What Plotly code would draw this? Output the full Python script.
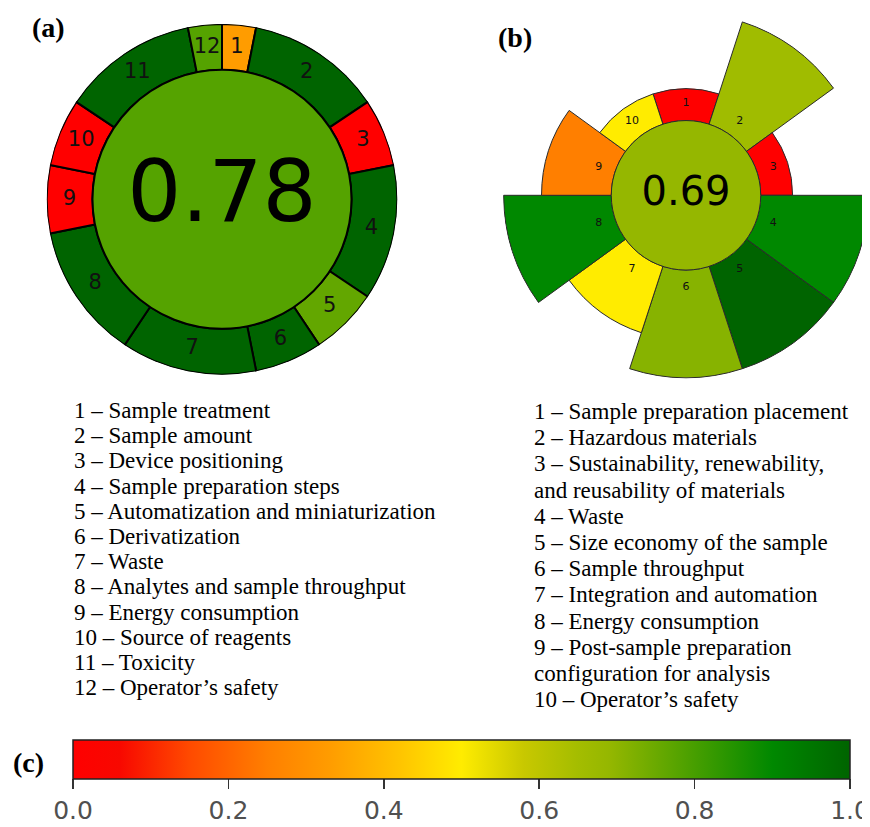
import plotly.graph_objects as go

# ---------------- data ----------------
a_criteria = [str(i) for i in range(1, 13)]
a_weights = [1, 4, 2, 4, 2, 2, 4, 4, 2, 2, 4, 1]
a_scores = [0.33, 1.0, 0.0, 1.0, 0.76, 1.0, 1.0, 1.0, 0.0, 0.0, 1.0, 0.78]
a_total = 0.78
a_legend = [
    "1 – Sample treatment",
    "2 – Sample amount",
    "3 – Device positioning",
    "4 – Sample preparation steps",
    "5 – Automatization and miniaturization",
    "6 – Derivatization",
    "7 – Waste",
    "8 – Analytes and sample throughput",
    "9 – Energy consumption",
    "10 – Source of reagents",
    "11 – Toxicity",
    "12 – Operator’s safety",
]

b_criteria = [str(i) for i in range(1, 11)]
b_weights = [1, 3, 1, 3, 3, 3, 2, 3, 2, 1]
b_scores = [0.0, 0.66, 0.0, 0.9, 1.0, 0.71, 0.5, 0.9, 0.25, 0.5]
b_total = 0.69
b_legend = [
    "1 – Sample preparation placement",
    "2 – Hazardous materials",
    "3 – Sustainability, renewability,",
    "and reusability of materials",
    "4 – Waste",
    "5 – Size economy of the sample",
    "6 – Sample throughput",
    "7 – Integration and automation",
    "8 – Energy consumption",
    "9 – Post-sample preparation",
    "configuration for analysis",
    "10 – Operator’s safety",
]

cbar_tickvals = [0.0, 0.2, 0.4, 0.6, 0.8, 1.0]
cbar_ticktext = ["0.0", "0.2", "0.4", "0.6", "0.8", "1.0"]

# ---------------- style ----------------
colorscale = [
    [0.0, "#ff0000"], [0.06, "#f80800"], [0.15, "#ff4a00"], [0.25, "#ff7f00"],
    [0.33, "#ff9c00"], [0.42, "#ffc400"], [0.5, "#ffec00"], [0.58, "#c8c800"],
    [0.65, "#a4bd00"], [0.69, "#95b700"], [0.78, "#55a300"], [0.9, "#008800"],
    [1.0, "#006400"],
]
PAGE_OFF = 8  # default body margin of the html page
W, H = 870 - PAGE_OFF, 827 - PAGE_OFF


def px_x(x):
    return (x - PAGE_OFF) / W


def px_y(y):
    return 1 - (y - PAGE_OFF) / H


fig = go.Figure()

# ---------- panel (a): AGREE ring ----------
tot_a = sum(a_weights)
a_width = [w * 360.0 / tot_a for w in a_weights]
a_theta = []
acc = 0.0
for wd in a_width:
    a_theta.append(acc + wd / 2)
    acc += wd
a_inner, a_outer = 130 / 176, 1.0

fig.add_trace(go.Barpolar(
    r=[a_outer - a_inner] * len(a_weights), base=[a_inner] * len(a_weights),
    theta=a_theta, width=a_width,
    marker=dict(color=a_scores, colorscale=colorscale, cmin=0, cmax=1,
                line=dict(color="#000000", width=2),
                showscale=True,
                colorbar=dict(
                    orientation="h", x=px_x((73 + 850) / 2), xanchor="center",
                    y=px_y(743), yanchor="top",
                    len=777, lenmode="pixels", thickness=39, thicknessmode="pixels",
                    xpad=0, ypad=0, outlinewidth=1.5, outlinecolor="#222222",
                    ticks="outside", ticklen=10, tickwidth=1.5, tickcolor="#333333",
                    tickvals=cbar_tickvals, ticktext=cbar_ticktext,
                    tickfont=dict(family="DejaVu Sans", size=25, color="#505050"),
                )),
    subplot="polar", hoverinfo="skip",
))
fig.add_trace(go.Barpolar(
    r=[a_inner], base=[0], theta=[0], width=[360],
    marker=dict(color=[a_total], colorscale=colorscale, cmin=0, cmax=1,
                line=dict(color="#000000", width=2)),
    subplot="polar", hoverinfo="skip",
))
fig.add_trace(go.Scatterpolar(
    r=[(a_inner + a_outer) / 2] * len(a_criteria), theta=a_theta,
    text=a_criteria, mode="text",
    textfont=dict(family="DejaVu Sans", size=21, color="#111111"),
    subplot="polar", hoverinfo="skip",
))
fig.add_trace(go.Scatterpolar(
    r=[0], theta=[0], text=[f"{a_total:.2f}"], mode="text",
    textfont=dict(family="DejaVu Sans", size=85, color="#000000"),
    subplot="polar", hoverinfo="skip",
))

# ---------- panel (b): AGREEprep ----------
nb = len(b_weights)
b_width = [360.0 / nb] * nb
b_theta = [i * 360.0 / nb for i in range(nb)]
b_inner = 75
b_top = [69 + 38 * w for w in b_weights]

fig.add_trace(go.Barpolar(
    r=[t - b_inner for t in b_top], base=[b_inner] * nb,
    theta=b_theta, width=b_width,
    marker=dict(color=b_scores, colorscale=colorscale, cmin=0, cmax=1,
                line=dict(color="#2a2a2a", width=1)),
    subplot="polar2", hoverinfo="skip",
))
fig.add_trace(go.Barpolar(
    r=[b_inner], base=[0], theta=[0], width=[360],
    marker=dict(color=[b_total], colorscale=colorscale, cmin=0, cmax=1,
                line=dict(color="#2a2a2a", width=1)),
    subplot="polar2", hoverinfo="skip",
))
fig.add_trace(go.Scatterpolar(
    r=[92] * nb, theta=b_theta, text=b_criteria, mode="text",
    textfont=dict(family="DejaVu Sans", size=11, color="#111111"),
    subplot="polar2", hoverinfo="skip",
))
fig.add_trace(go.Scatterpolar(
    r=[0], theta=[0], text=[f"{b_total:.2f}"], mode="text",
    textfont=dict(family="DejaVu Sans", size=40, color="#000000"),
    subplot="polar2", hoverinfo="skip",
))

polar_common = dict(
    bgcolor="rgba(0,0,0,0)",
    angularaxis=dict(visible=False, direction="clockwise", rotation=90),
    hole=0,
)
fig.update_layout(
    width=W, height=H,
    margin=dict(l=0, r=0, t=0, b=0),
    paper_bgcolor="white", plot_bgcolor="white",
    showlegend=False,
    polar=dict(domain=dict(x=[px_x(46), px_x(398)], y=[px_y(376), px_y(24)]),
               radialaxis=dict(visible=False, range=[0, 1]), **polar_common),
    polar2=dict(domain=dict(x=[px_x(502), px_x(870)], y=[px_y(380), px_y(12)]),
                radialaxis=dict(visible=False, range=[0, 184]), **polar_common),
)

annotations = []
# panel labels
for txt, x, y in [("(a)", 48, 28), ("(b)", 515, 38), ("(c)", 28, 765)]:
    annotations.append(dict(
        text=f"<b>{txt}</b>", x=px_x(x), y=px_y(y), xref="paper", yref="paper",
        xanchor="center", yanchor="middle", showarrow=False,
        font=dict(family="Liberation Serif", size=28, color="#000000")))
# legend texts
for i, line in enumerate(a_legend):
    annotations.append(dict(
        text=line, x=px_x(72), y=px_y(412 + i * 25.3), xref="paper", yref="paper",
        xanchor="left", yanchor="middle", showarrow=False,
        font=dict(family="Liberation Serif", size=23, color="#000000")))
for i, line in enumerate(b_legend):
    annotations.append(dict(
        text=line, x=px_x(532), y=px_y(413 + i * 26.3), xref="paper", yref="paper",
        xanchor="left", yanchor="middle", showarrow=False,
        font=dict(family="Liberation Serif", size=23, color="#000000")))
fig.update_layout(annotations=annotations)

fig.write_html("out.html", config={"staticPlot": True})
